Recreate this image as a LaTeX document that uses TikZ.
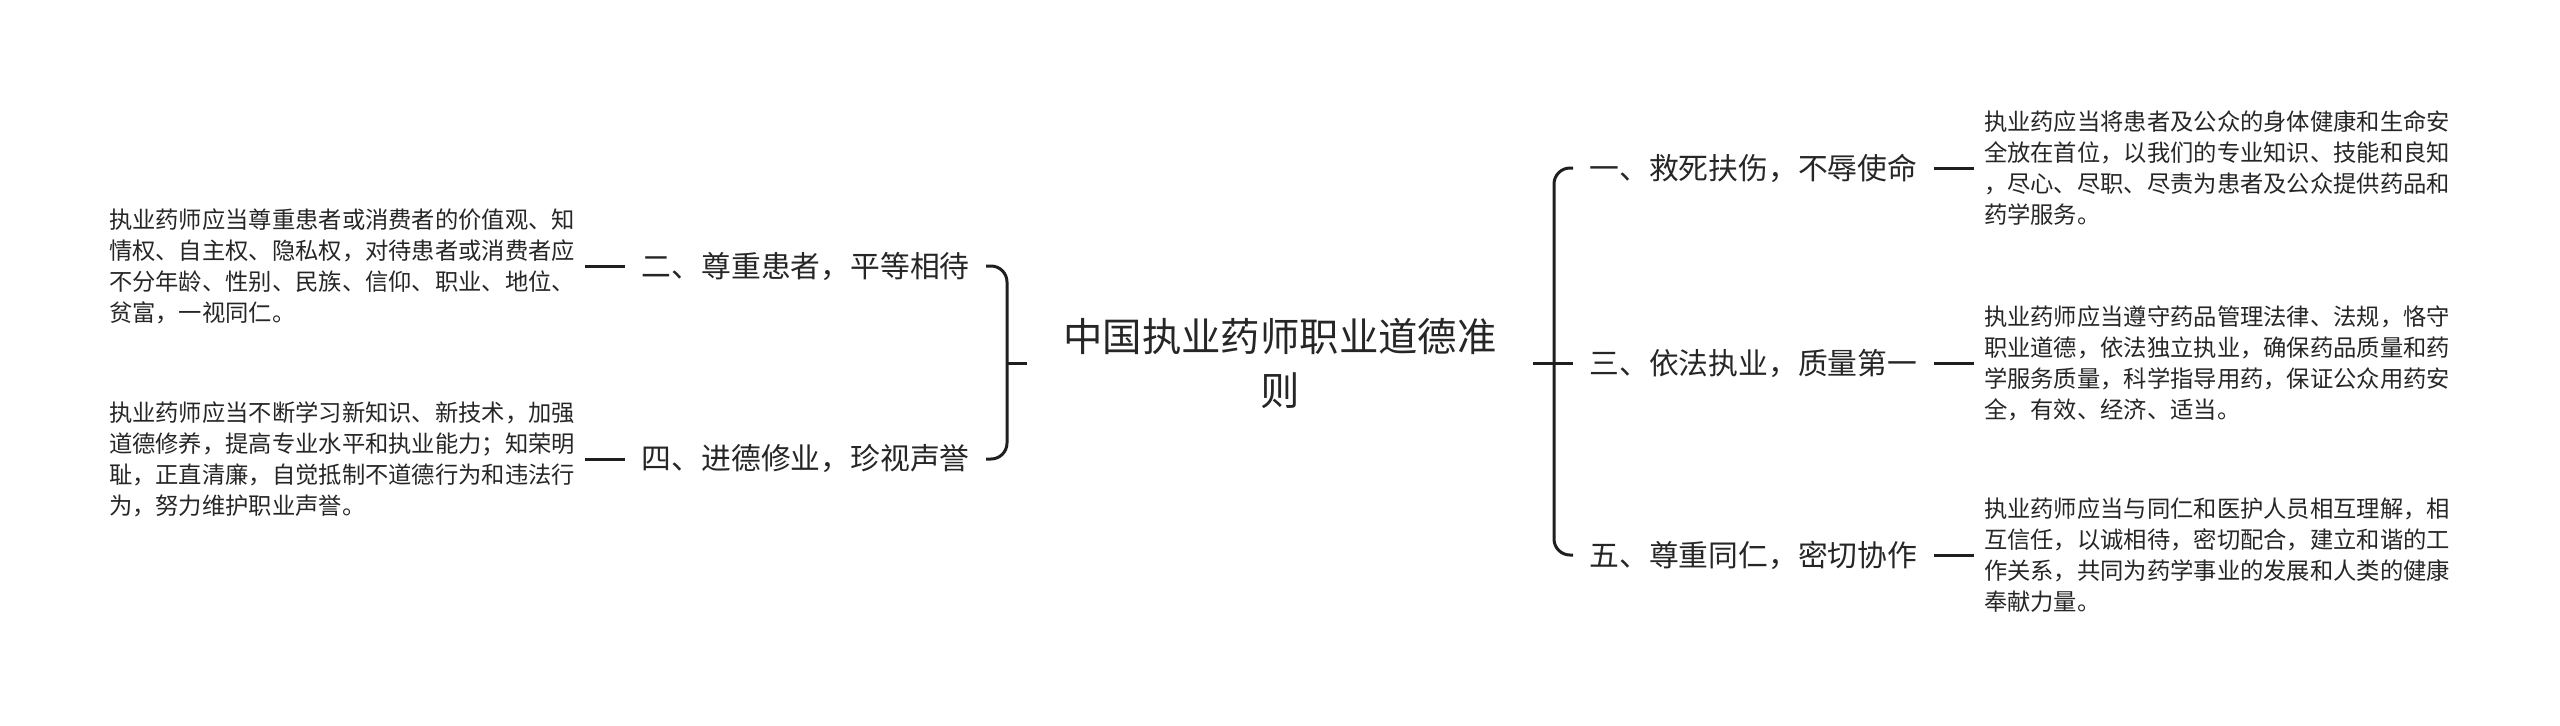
\documentclass[tikz,border=0pt]{standalone}
\usepackage{fontspec}
\setmainfont{Noto Sans CJK SC}
\usetikzlibrary{positioning}

\begin{document}
\begin{tikzpicture}[x=0.5pt,y=-0.5pt,
  link/.style={line width=1.5pt,draw=black!88},
  topic/.style={font=\fontsize{19.7}{27}\selectfont,align=center,inner xsep=18pt,text=black!85},
  branch/.style={font=\fontsize{14.9}{18}\selectfont,inner xsep=8pt,text=black!85},
  leaf/.style={font=\fontsize{11.65}{15.5}\selectfont,align=left,inner xsep=5pt,text=black!85}]
\useasboundingbox (0,0) rectangle (2560,725);

% Central topic
\node[topic] (root) at (1280,363) {中国执业药师职业道德准\\则};

% Left side
\node[branch,anchor=east] (b2) at (986,266) {二、尊重患者，平等相待};
\node[branch,anchor=east] (b4) at (986,459) {四、进德修业，珍视声誉};

\node[leaf,left=20pt of b2] (l2) {执业药师应当尊重患者或消费者的价值观、知\\情权、自主权、隐私权，对待患者或消费者应\\不分年龄、性别、民族、信仰、职业、地位、\\贫富，一视同仁。};
\node[leaf,left=20pt of b4] (l4) {执业药师应当不断学习新知识、新技术，加强\\道德修养，提高专业水平和执业能力；知荣明\\耻，正直清廉，自觉抵制不道德行为和违法行\\为，努力维护职业声誉。};

\coordinate (lfork) at (1007,363);
\draw[link,rounded corners=8pt] (b2.east) -| (lfork) |- (b4.east);
\draw[link] (lfork) -- (root.west);

% Right side
\node[branch,anchor=west] (b1) at (1573,168) {一、救死扶伤，不辱使命};
\node[branch,anchor=west] (b3) at (1573,363) {三、依法执业，质量第一};
\node[branch,anchor=west] (b5) at (1573,555) {五、尊重同仁，密切协作};

\node[leaf,right=20pt of b1] (l1) {执业药应当将患者及公众的身体健康和生命安\\全放在首位，以我们的专业知识、技能和良知\\，尽心、尽职、尽责为患者及公众提供药品和\\药学服务。};
\node[leaf,right=20pt of b3] (l3) {执业药师应当遵守药品管理法律、法规，恪守\\职业道德，依法独立执业，确保药品质量和药\\学服务质量，科学指导用药，保证公众用药安\\全，有效、经济、适当。};
\node[leaf,right=20pt of b5] (l5) {执业药师应当与同仁和医护人员相互理解，相\\互信任，以诚相待，密切配合，建立和谐的工\\作关系，共同为药学事业的发展和人类的健康\\奉献力量。};

\coordinate (rfork) at (1554,363);
\draw[link,rounded corners=8pt] (b1.west) -| (rfork) |- (b5.west);
\draw[link] (root.east) -- (b3.west);

% Leaf connectors
\foreach \n in {2,4} {
  \draw[link] (l\n.east) -- (b\n.west);
}
\foreach \n in {1,3,5} {
  \draw[link] (b\n.east) -- (l\n.west);
}
\end{tikzpicture}
\end{document}
